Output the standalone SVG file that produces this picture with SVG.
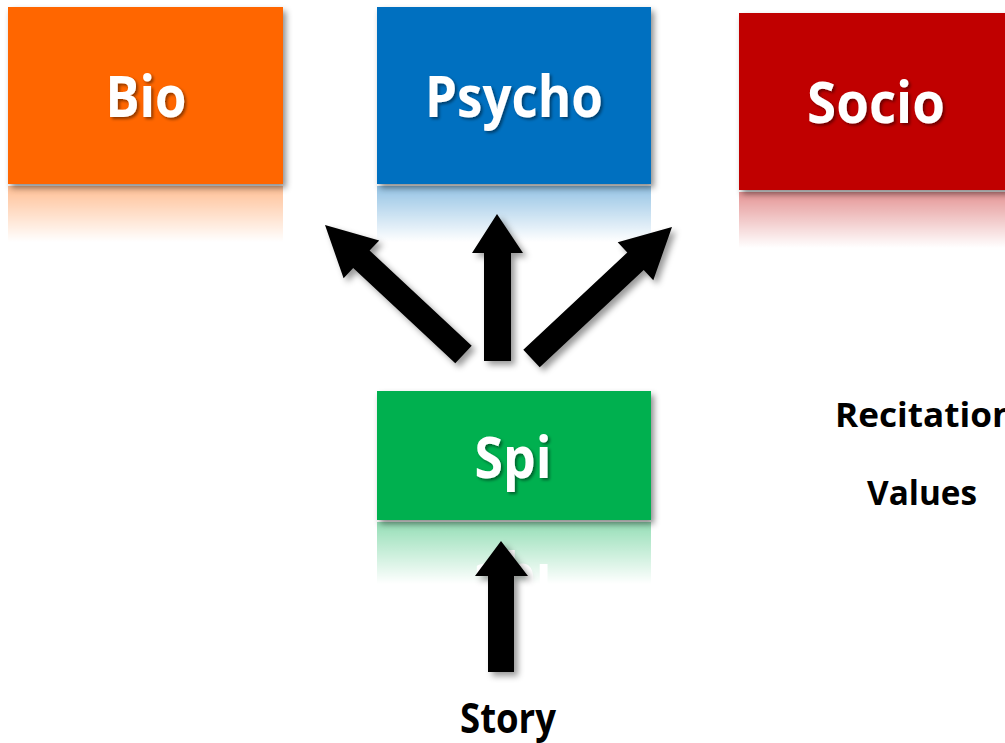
<svg xmlns="http://www.w3.org/2000/svg" xmlns:xlink="http://www.w3.org/1999/xlink" width="1005" height="743" viewBox="0 0 1005 743">
  <style>
    .label { font-family: "Open Sans", "Liberation Sans", sans-serif; font-weight: 700; font-size: 57px; fill: #ffffff; text-anchor: middle; }
    .note { font-family: "Open Sans", "Liberation Sans", sans-serif; font-weight: 700; fill: #000000; }
    .arrow { fill: #000000; }
  </style>
  <defs>
    <filter id="boxShadow" x="-10%" y="-10%" width="125%" height="130%">
      <feDropShadow dx="3" dy="4" stdDeviation="3" flood-color="#000000" flood-opacity="0.45"/>
    </filter>
    <filter id="textShadow" x="-10%" y="-20%" width="125%" height="150%">
      <feDropShadow dx="2" dy="2" stdDeviation="1.5" flood-color="#000000" flood-opacity="0.45"/>
    </filter>
    <filter id="arrowShadow" x="-20%" y="-20%" width="150%" height="150%">
      <feDropShadow dx="4" dy="4" stdDeviation="3" flood-color="#000000" flood-opacity="0.4"/>
    </filter>
    <linearGradient id="fade" x1="0" y1="0" x2="0" y2="1">
      <stop offset="0" stop-color="#ffffff" stop-opacity="0.42"/>
      <stop offset="1" stop-color="#ffffff" stop-opacity="0"/>
    </linearGradient>
    <mask id="fadeBio" maskUnits="userSpaceOnUse" x="0" y="184" width="300" height="60">
      <rect x="0" y="186" width="300" height="56" fill="url(#fade)"/>
    </mask>
    <mask id="fadePsycho" maskUnits="userSpaceOnUse" x="370" y="184" width="290" height="60">
      <rect x="370" y="186" width="290" height="56" fill="url(#fade)"/>
    </mask>
    <mask id="fadeSocio" maskUnits="userSpaceOnUse" x="730" y="190" width="290" height="60">
      <rect x="730" y="192" width="290" height="56" fill="url(#fade)"/>
    </mask>
    <mask id="fadeSpi" maskUnits="userSpaceOnUse" x="370" y="520" width="290" height="70">
      <rect x="370" y="522" width="290" height="62" fill="url(#fade)"/>
    </mask>
  </defs>

  <rect width="1005" height="743" fill="#ffffff"/>

  <!-- mirrored reflections under each box -->
  <g id="reflections">
    <g mask="url(#fadeBio)">
      <g transform="translate(0 370) scale(1 -1)">
        <rect x="8" y="7" width="275" height="177" fill="#ff6600"/>
      </g>
    </g>
    <g mask="url(#fadePsycho)">
      <g transform="translate(0 370) scale(1 -1)">
        <rect x="377" y="7" width="274" height="177" fill="#0070c0"/>
      </g>
    </g>
    <g mask="url(#fadeSocio)">
      <g transform="translate(0 382) scale(1 -1)">
        <rect x="739" y="13" width="275" height="177" fill="#c00000"/>
      </g>
    </g>
    <g mask="url(#fadeSpi)">
      <g transform="translate(0 1042) scale(1 -1)">
        <rect x="377" y="391" width="274" height="129" fill="#00b050"/>
        <text class="label" x="513" y="478" textLength="77" lengthAdjust="spacingAndGlyphs">Spi</text>
      </g>
    </g>
  </g>

  <g id="node-bio">
    <rect x="8" y="7" width="275" height="177" fill="#ff6600" filter="url(#boxShadow)"/>
    <text class="label" x="146" y="117" textLength="81" lengthAdjust="spacingAndGlyphs" filter="url(#textShadow)">Bio</text>
  </g>

  <g id="node-psycho">
    <rect x="377" y="7" width="274" height="177" fill="#0070c0" filter="url(#boxShadow)"/>
    <text class="label" x="514" y="117" textLength="178" lengthAdjust="spacingAndGlyphs" filter="url(#textShadow)">Psycho</text>
  </g>

  <g id="node-socio">
    <rect x="739" y="13" width="275" height="177" fill="#c00000" filter="url(#boxShadow)"/>
    <text class="label" x="876" y="123" textLength="138" lengthAdjust="spacingAndGlyphs" filter="url(#textShadow)">Socio</text>
  </g>

  <g id="node-spi">
    <rect x="377" y="391" width="274" height="129" fill="#00b050" filter="url(#boxShadow)"/>
    <text class="label" x="513" y="478" textLength="77" lengthAdjust="spacingAndGlyphs" filter="url(#textShadow)">Spi</text>
  </g>

  <g id="connectors" filter="url(#arrowShadow)">
    <!-- Spi to Bio -->
    <polygon class="arrow" points="325,225 379.2,240.4 369.6,250.6 471.7,345.8 455.3,363.2 353.2,268 343.6,278.2"/>
    <!-- Spi to Psycho -->
    <polygon class="arrow" points="497,214 523,253 511,253 511,361 484,361 484,253 472,253"/>
    <!-- Spi to Socio -->
    <polygon class="arrow" points="672,227 653.3,280.2 643.7,270 539.7,367.3 523.3,349.7 627.3,252.4 617.7,242.2"/>
    <!-- Story to Spi -->
    <polygon class="arrow" points="501,541 528,576 514,576 514,672 488,672 488,576 475,576"/>
  </g>

  <g id="label-story">
    <text class="note" x="460" y="733" font-size="42" textLength="96" lengthAdjust="spacingAndGlyphs">Story</text>
  </g>
  <g id="label-recitation">
    <text class="note" x="835" y="427" font-size="34" textLength="180" lengthAdjust="spacingAndGlyphs">Recitation</text>
  </g>
  <g id="label-values">
    <text class="note" x="867" y="505" font-size="34" textLength="110" lengthAdjust="spacingAndGlyphs">Values</text>
  </g>
</svg>
